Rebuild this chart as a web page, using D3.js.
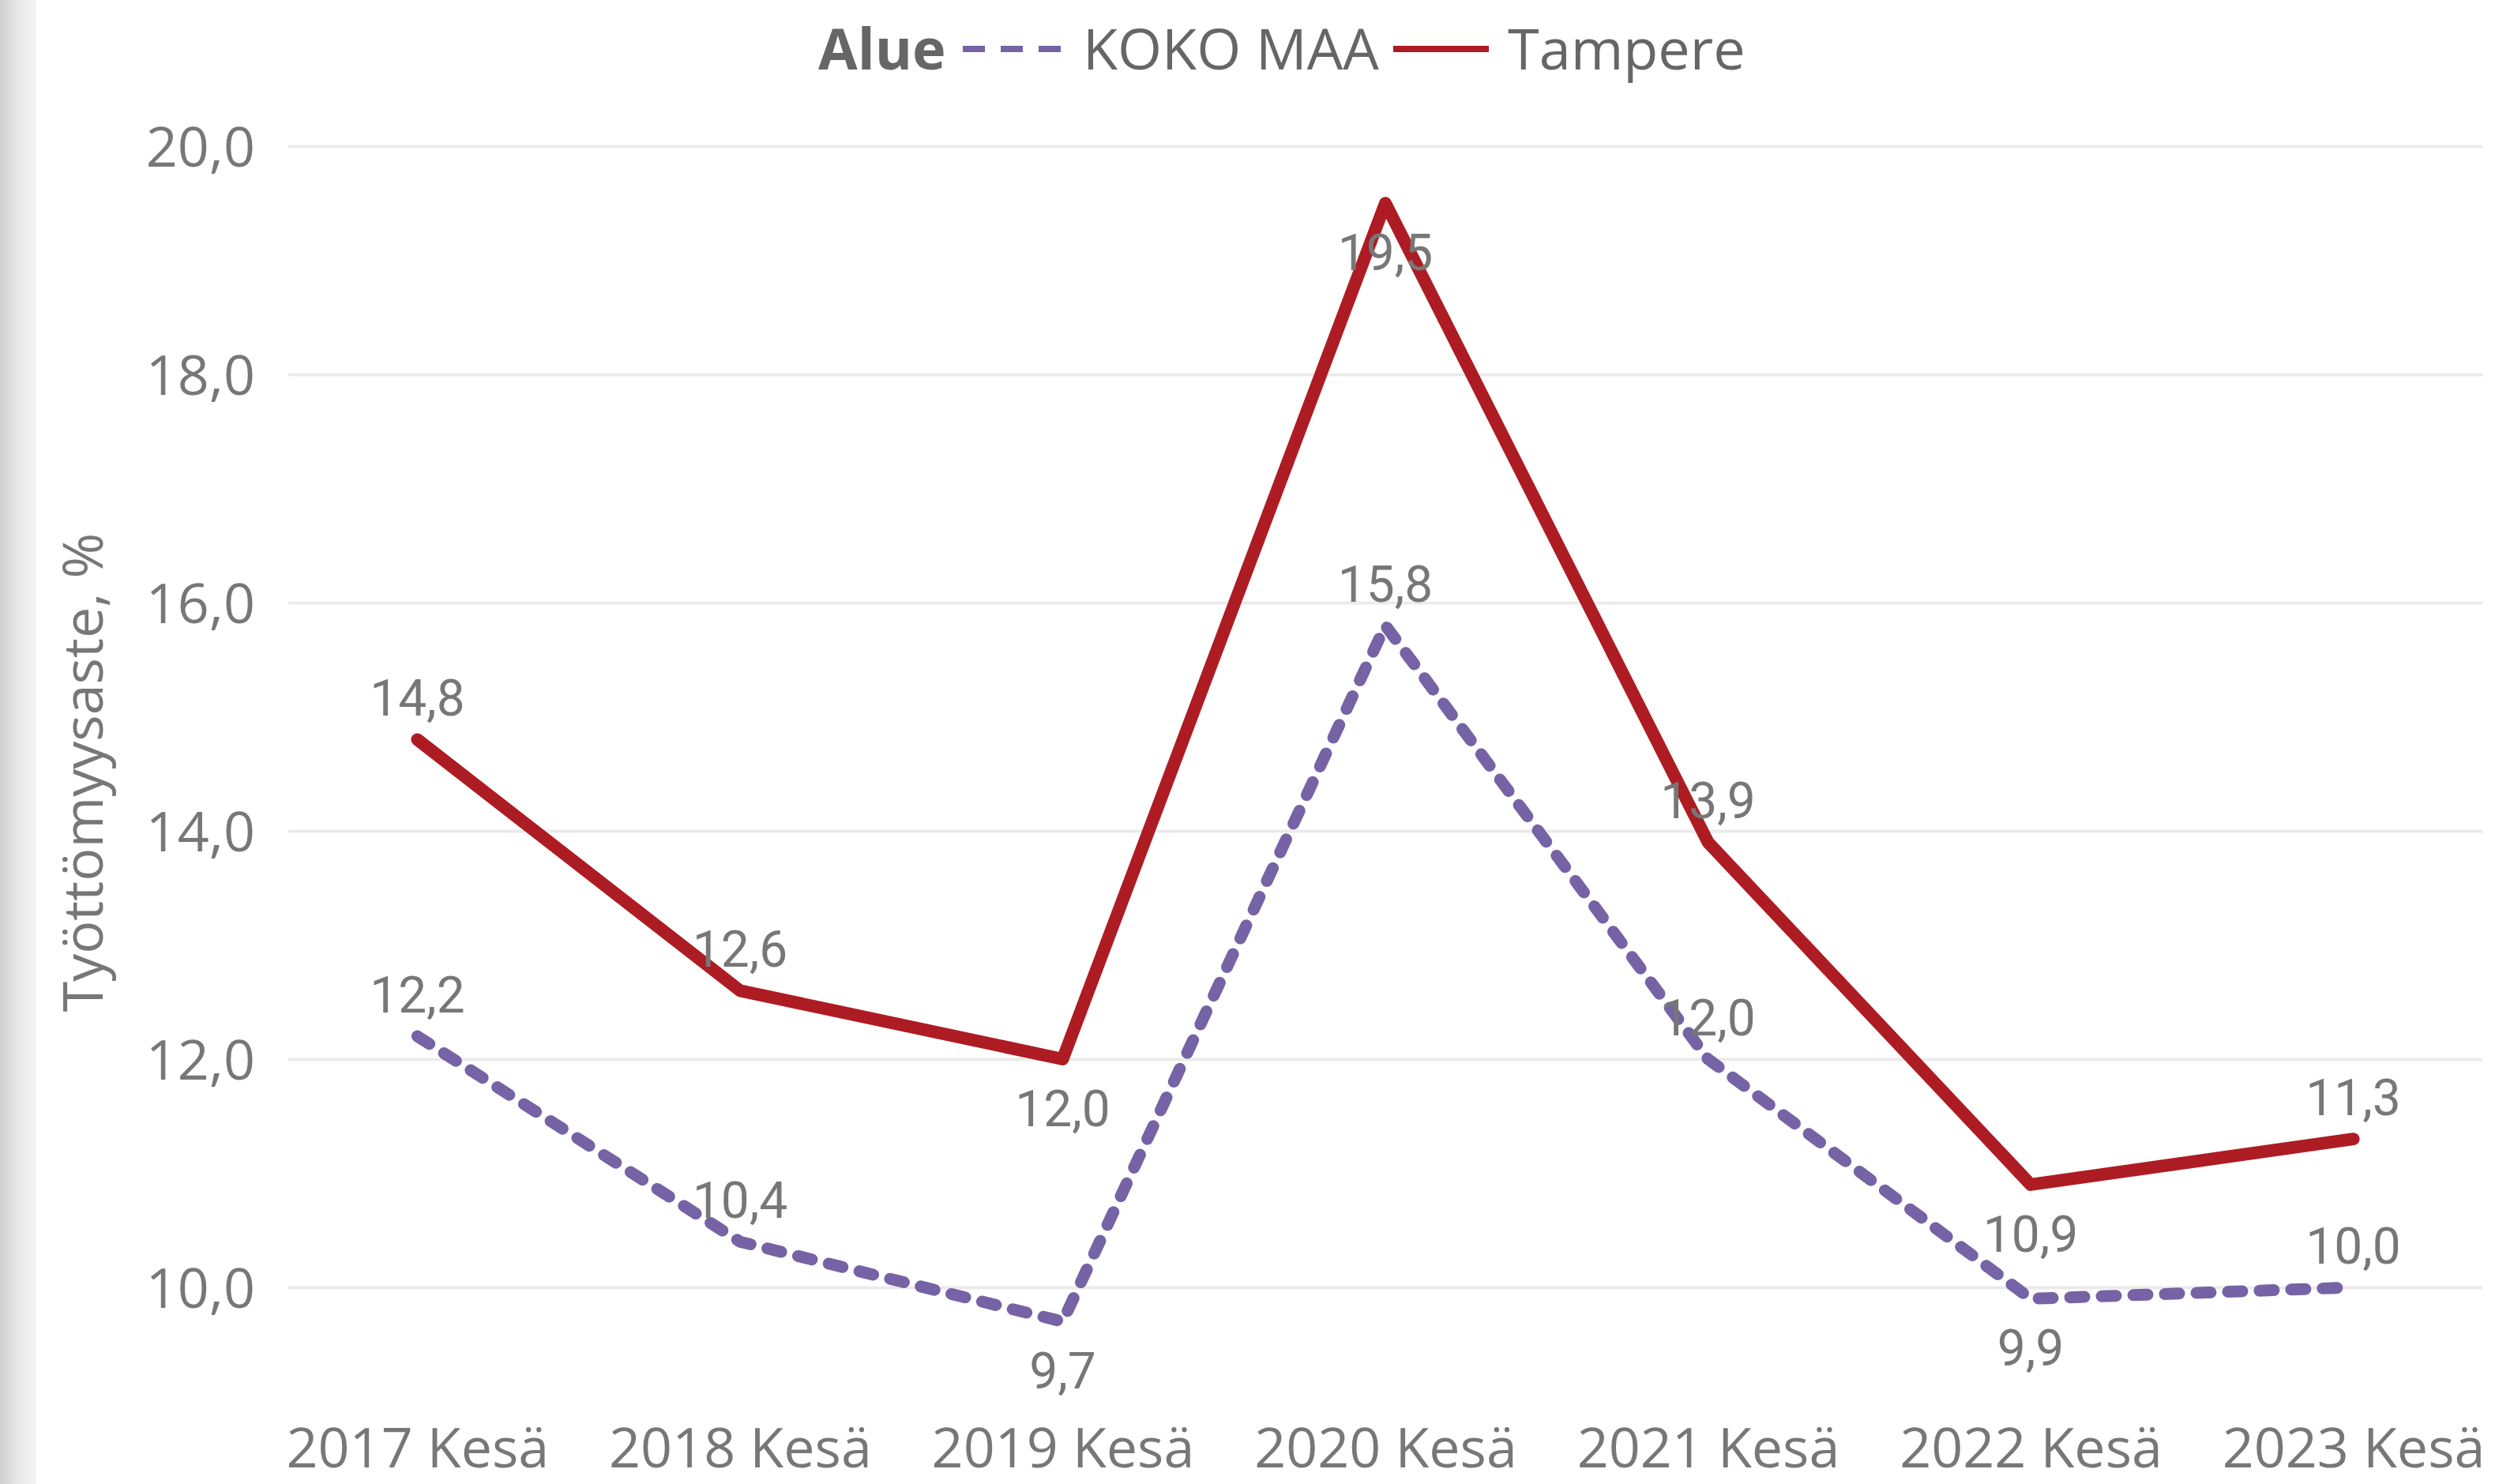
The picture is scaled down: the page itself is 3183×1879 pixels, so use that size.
<!DOCTYPE html>
<html>
<head>
<meta charset="utf-8">
<script src="https://cdn.jsdelivr.net/npm/d3@7"></script>
<style>
  body { margin: 0; background: #fff; }
  svg { display: block; }
  text { font-family: "Segoe UI", "Open Sans", sans-serif; }
</style>
</head>
<body>
<script>
// data
var categories = ["2017 Kesä", "2018 Kesä", "2019 Kesä", "2020 Kesä", "2021 Kesä", "2022 Kesä", "2023 Kesä"];
var kokoMaa = [12.2, 10.4, 9.7, 15.8, 12.0, 9.9, 10.0];
var tampere = [14.8, 12.6, 12.0, 19.5, 13.9, 10.9, 11.3];
var yTicks = [10, 12, 14, 16, 18, 20];
var seriesNames = ["KOKO MAA", "Tampere"];
var kokoLabelPos = ["above", "above", "below", "above", "above", "below", "above"];
var tampereLabelPos = ["above", "above", "below", "below", "above", "below", "above"];

var width = 3183;
var height = 1879;
var left = 365, right = 3143;

var fi = d3.formatLocale({decimal: ",", thousands: " ", grouping: [3], currency: ["", "€"]});
var fmt = fi.format(".1f");

var svg = d3.select("body")
            .append("svg")
            .attr("width", width)
            .attr("height", height);

// grey strip on the left
var grad = svg.append("defs").append("linearGradient")
  .attr("id", "strip").attr("x1", 0).attr("x2", 1).attr("y1", 0).attr("y2", 0);
grad.append("stop").attr("offset", "0%").attr("stop-color", "#cfcfcf");
grad.append("stop").attr("offset", "45%").attr("stop-color", "#e6e6e6");
grad.append("stop").attr("offset", "100%").attr("stop-color", "#f4f4f4");
svg.append("rect").attr("x", 0).attr("y", 0).attr("width", 46).attr("height", height)
   .attr("fill", "url(#strip)");

var xScale = d3.scalePoint()
               .domain(categories)
               .range([left, right])
               .padding(0.4);

var yScale = d3.scaleLinear()
               .domain([10, 20])
               .range([1630, 185]);

// y axis + gridlines
var yAxis = d3.axisLeft(yScale)
              .tickValues(yTicks)
              .tickSize(-(right - left))
              .tickPadding(42)
              .tickFormat(fmt);

var yg = svg.append("g")
  .attr("transform", "translate(" + left + ",0)")
  .call(yAxis);
yg.select(".domain").remove();
yg.selectAll("line").attr("stroke", "#ebebeb").attr("stroke-width", 4);
yg.selectAll("text")
  .attr("fill", "#777")
  .attr("font-size", 70)
  .attr("dy", "0.37em")
  .style("font-family", '"Segoe UI", "Open Sans", sans-serif');

// x axis
var xAxis = d3.axisBottom(xScale).tickSize(0);
var xg = svg.append("g")
  .attr("transform", "translate(0,1858)")
  .call(xAxis);
xg.select(".domain").remove();
xg.selectAll("text")
  .attr("y", 0).attr("dy", 0)
  .attr("fill", "#777")
  .attr("font-size", 70)
  .style("font-family", '"Segoe UI", "Open Sans", sans-serif');

// y title
svg.append("text")
   .attr("transform", "translate(130,978) rotate(-90)")
   .attr("text-anchor", "middle")
   .attr("fill", "#777")
   .attr("font-size", 70)
   .text("Työttömyysaste, %");

var line = d3.line()
  .x(function(d, i) { return xScale(categories[i]); })
  .y(function(d) { return yScale(d); });

//lines
svg.append("path")
   .datum(kokoMaa)
   .attr("d", line)
   .attr("fill", "none")
   .attr("stroke", "#7563a5")
   .attr("stroke-width", 15)
   .attr("stroke-linecap", "round")
   .attr("stroke-linejoin", "round")
   .attr("stroke-dasharray", "18,22");

svg.append("path")
   .datum(tampere)
   .attr("d", line)
   .attr("fill", "none")
   .attr("stroke", "#ae1c23")
   .attr("stroke-width", 16)
   .attr("stroke-linecap", "round")
   .attr("stroke-linejoin", "round");

// data labels
var drawLabels = function(values, pos) {
  svg.append("g").selectAll("text")
     .data(values)
     .enter()
     .append("text")
     .attr("x", function(d, i) { return xScale(categories[i]); })
     .attr("y", function(d, i) {
       return pos[i] == "above" ? yScale(d) - 30 : yScale(d) + 85;
     })
     .attr("text-anchor", "middle")
     .attr("fill", "#777")
     .attr("font-size", 64)
     .style("font-family", "Roboto, sans-serif")
     .text(function(d) { return fmt(d); });
}
drawLabels(kokoMaa, kokoLabelPos);
drawLabels(tampere, tampereLabelPos);

// legend
var lg = svg.append("g");
lg.append("text").attr("x", 1036).attr("y", 88)
  .attr("font-size", 72).attr("font-weight", "bold").attr("fill", "#666")
  .text("Alue");
lg.append("line").attr("x1", 1219).attr("x2", 1343).attr("y1", 62).attr("y2", 62)
  .attr("stroke", "#7563a5").attr("stroke-width", 8).attr("stroke-dasharray", "28,20");
lg.append("text").attr("x", 1371).attr("y", 88)
  .attr("font-size", 72).attr("fill", "#666")
  .text(seriesNames[0]);
lg.append("line").attr("x1", 1764).attr("x2", 1885).attr("y1", 62).attr("y2", 62)
  .attr("stroke", "#ae1c23").attr("stroke-width", 8);
lg.append("text").attr("x", 1909).attr("y", 88)
  .attr("font-size", 72).attr("fill", "#666")
  .text(seriesNames[1]);
</script>
</body>
</html>
